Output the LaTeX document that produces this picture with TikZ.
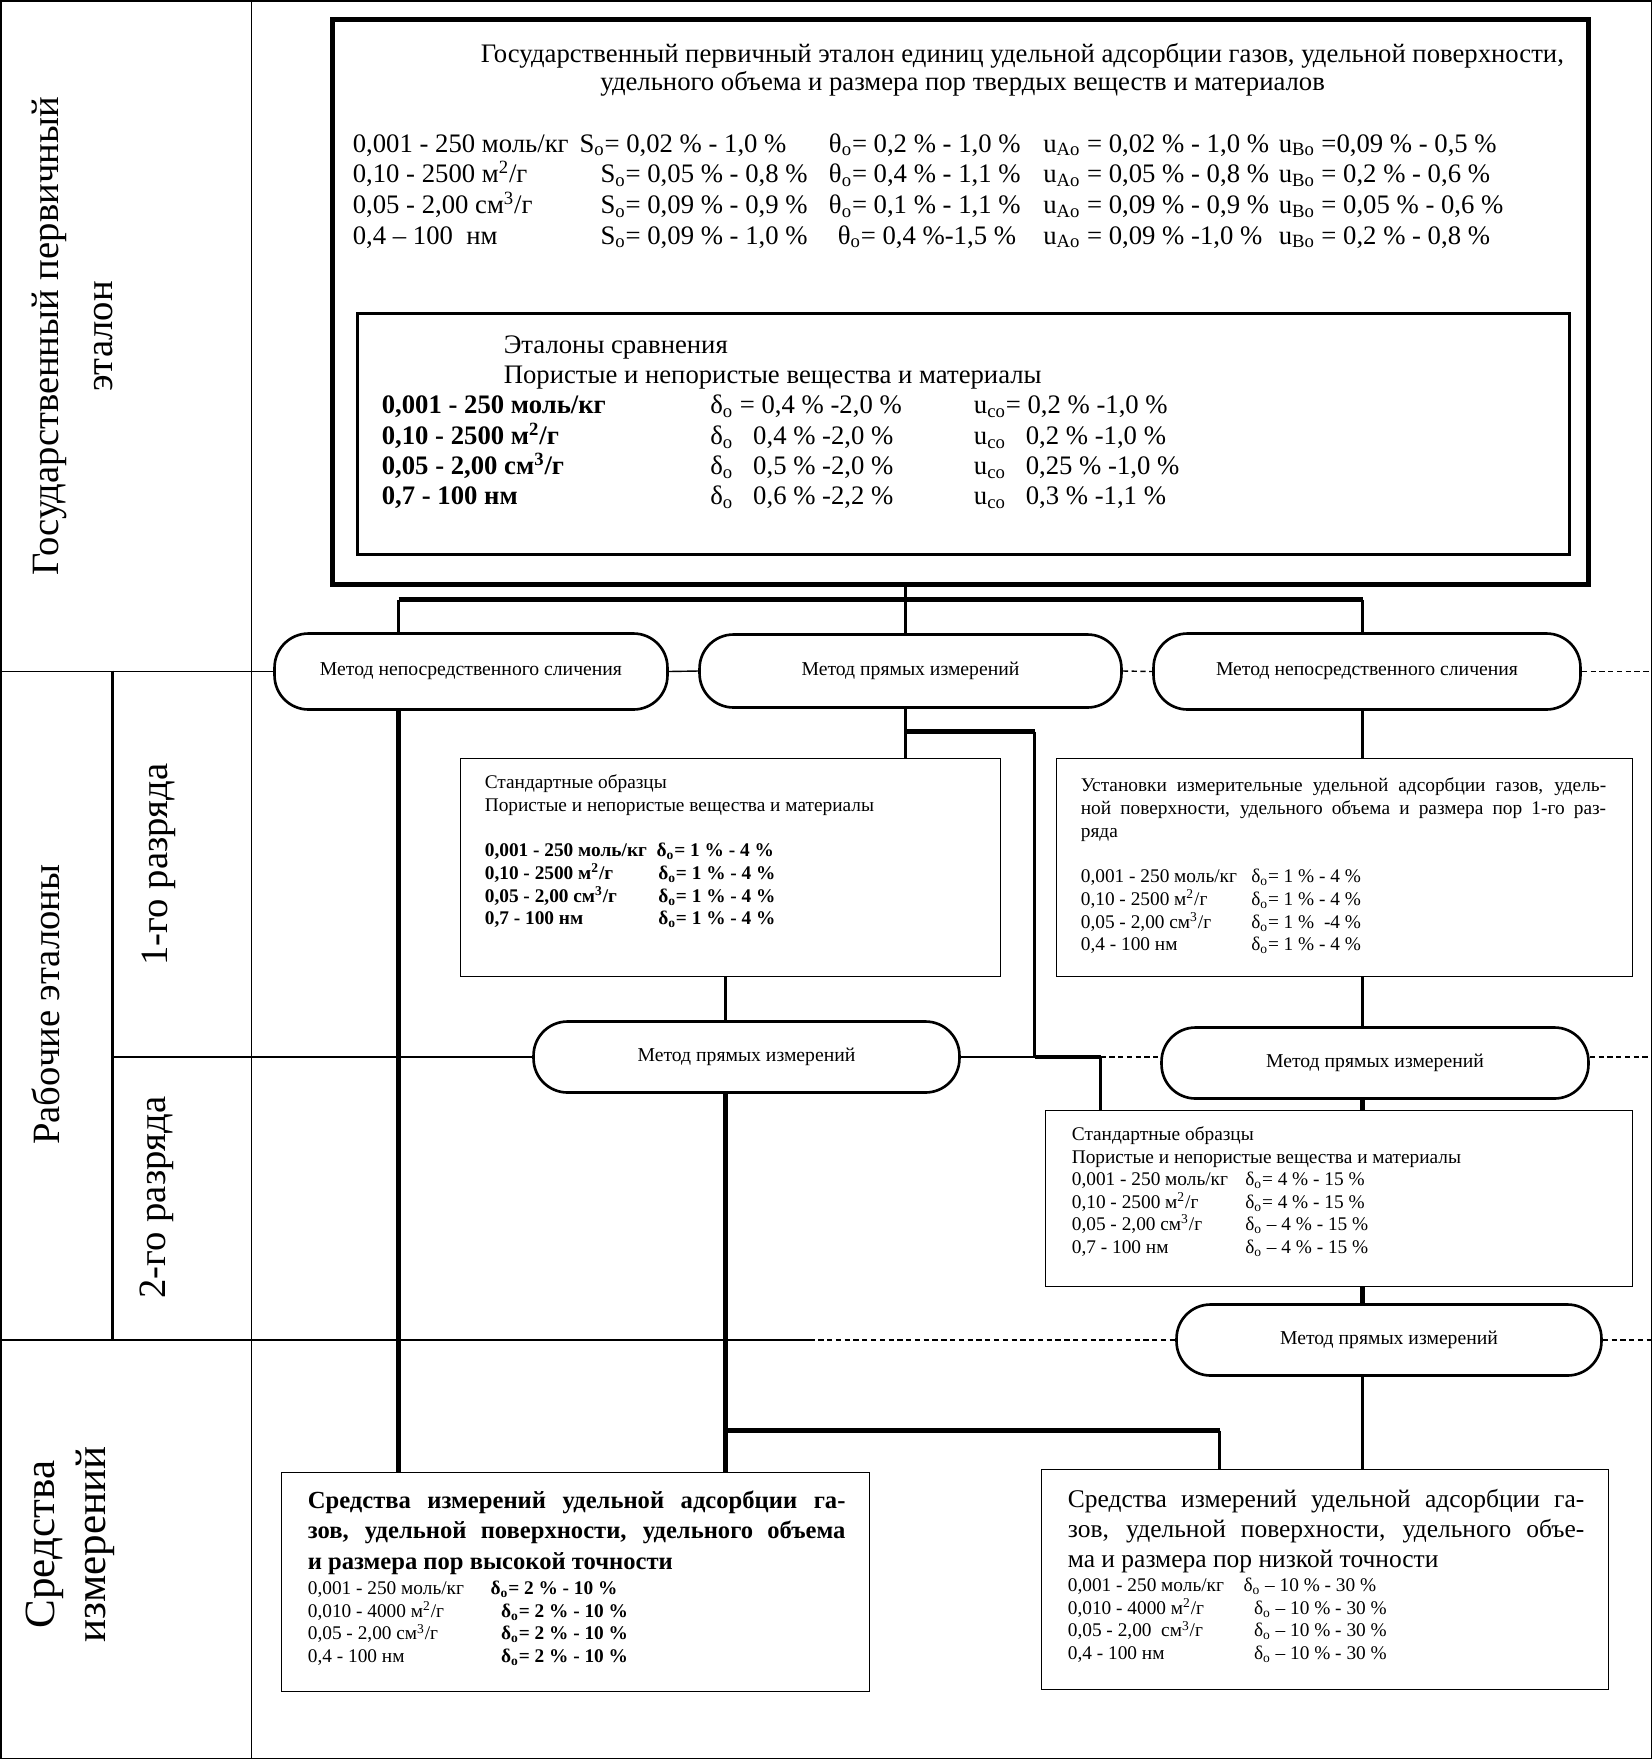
\documentclass[tikz,border=0pt]{standalone}
\usepackage{fontspec}
\setmainfont{Liberation Serif}
\usetikzlibrary{fit}

\newcommand{\dsub}{δ\textsubscript{o}}
\newcommand{\msq}{м\textsuperscript{2}/г}
\newcommand{\scm}{см\textsuperscript{3}/г}
\newcommand{\gosrow}[5]{\makebox[141pt][l]{#1}\makebox[130pt][l]{#2}\makebox[122pt][l]{#3}\makebox[134pt][l]{#4}#5}
\newcommand{\cmprow}[3]{\makebox[187pt][l]{\textbf{#1}}\makebox[150pt][l]{#2}#3}

\tikzset{
  tabline/.style={line width=0.8pt},
  dashline/.style={line width=0.8pt, densely dashed},
  sideline/.style={line width=1.4pt},
  conn/.style={line width=1.3pt},
  thickconn/.style={line width=2.4pt},
  stdbox/.style={draw, line width=1pt, inner sep=0pt},
  method/.style={draw, line width=1.5pt, rounded corners=0.68cm, inner sep=0pt,
    minimum height=1.42cm, font=\fontsize{11.2}{13}\selectfont},
  side/.style={rotate=90, align=center, inner sep=0pt, font=\fontsize{22}{30.6}\selectfont},
  txt/.style={anchor=north west, inner sep=0pt},
}

\begin{document}
\begin{tikzpicture}[x=0.02cm, y=-0.02cm]
    \useasboundingbox (-0.5,-0.5) rectangle (1651.5,1758.5);

    % опорные вертикали
    \coordinate (fl) at (0,0);
    \coordinate (fr) at (1651,0);
    \coordinate (subcol) at (112,0);
    \coordinate (midcut) at (809,0);
    \coordinate (colA) at (398,0);
    \coordinate (colB) at (905,0);
    \coordinate (colC) at (1362,0);
    \coordinate (colD) at (725,0);
    \coordinate (colE) at (1034,0);
    \coordinate (colF) at (1100,0);
    \coordinate (colG) at (1219,0);

    % рамка и левые графы
    \draw[tabline] (0.5,0.5) rectangle (1651,1758);
    \draw[tabline] (251,0) -- (251,1758);
    \draw[sideline] (112,670) -- (112,1338);

    \node[side] (lgos) at (72,336) {Государственный первичный\\эталон};
    \node[side] (lrab) at (45,1004) {Рабочие эталоны};
    \node[side] (lrz1) at (158,864) {1-го разряда};
    \node[side] (lrz2) at (156,1197) {2-го разряда};
    \node[side, font=\fontsize{24.5}{29}\selectfont] (lsi) at (70,1544) {Средства\\измерений};

    % государственный первичный эталон
    \node[draw, line width=2.8pt, inner sep=0pt, fit={(332,19) (1588,584)}] (gos) {};
    \node[txt, font=\fontsize{15.2}{16.4}\selectfont] (gostitle) at (480,41) {%
        \begin{tabular}{@{}l@{}}
        Государственный первичный эталон единиц удельной адсорбции газов, удельной поверхности,\\
        \hspace*{68pt}удельного объема и размера пор твердых веществ и материалов
        \end{tabular}};
    \node[txt, font=\fontsize{15.2}{17.35}\selectfont] (gosrows) at (352,130) {%
        \begin{tabular}{@{}l@{}}
        \gosrow{0,001 - 250 моль/кг}{\hspace*{-12pt}S\textsubscript{o}= 0,02 \% - 1,0 \%}{θ\textsubscript{o}= 0,2 \% - 1,0 \%}{u\textsubscript{Ao} = 0,02 \% - 1,0 \%}{u\textsubscript{Bo} =0,09 \% - 0,5 \%}\\
        \gosrow{0,10 - 2500 \msq}{S\textsubscript{o}= 0,05 \% - 0,8 \%}{θ\textsubscript{o}= 0,4 \% - 1,1 \%}{u\textsubscript{Ao} = 0,05 \% - 0,8 \%}{u\textsubscript{Bo} = 0,2 \% - 0,6 \%}\\
        \gosrow{0,05 - 2,00 \scm}{S\textsubscript{o}= 0,09 \% - 0,9 \%}{θ\textsubscript{o}= 0,1 \% - 1,1 \%}{u\textsubscript{Ao} = 0,09 \% - 0,9 \%}{u\textsubscript{Bo} = 0,05 \% - 0,6 \%}\\
        \gosrow{0,4 – 100\ \ нм}{S\textsubscript{o}= 0,09 \% - 1,0 \%}{\hspace*{5pt}θ\textsubscript{o}= 0,4 \%-1,5 \%}{u\textsubscript{Ao} = 0,09 \% -1,0 \%}{u\textsubscript{Bo} = 0,2 \% - 0,8 \%}
        \end{tabular}};

    % эталоны сравнения
    \node[draw, line width=1.8pt, inner sep=0pt, fit={(357,313) (1569,554)}] (cmp) {};
    \node[txt, font=\fontsize{15.2}{17}\selectfont] (cmptitle) at (503,332) {%
        \begin{tabular}{@{}l@{}}
        Эталоны сравнения\\
        Пористые и непористые вещества и материалы
        \end{tabular}};
    \node[txt, font=\fontsize{15.2}{17}\selectfont] (cmprows) at (381,392) {%
        \begin{tabular}{@{}l@{}}
        \cmprow{0,001 - 250 моль/кг}{\dsub{} = 0,4 \% -2,0 \%}{u\textsubscript{co}= 0,2 \% -1,0 \%}\\
        \cmprow{0,10 - 2500 \msq}{\dsub\ \ \ 0,4 \% -2,0 \%}{u\textsubscript{co}\ \ \ 0,2 \% -1,0 \%}\\
        \cmprow{0,05 - 2,00 \scm}{\dsub\ \ \ 0,5 \% -2,0 \%}{u\textsubscript{co}\ \ \ 0,25 \% -1,0 \%}\\
        \cmprow{0,7 - 100 нм}{\dsub\ \ \ 0,6 \% -2,2 \%}{u\textsubscript{co}\ \ \ 0,3 \% -1,1 \%}
        \end{tabular}};

    % методы передачи
    \node[method, minimum width=7.86cm, minimum height=1.52cm] (e1) at (470.5,671) {Метод непосредственного сличения};
    \node[method, minimum width=8.44cm, minimum height=1.46cm] (e2) at (910,670.5) {Метод прямых измерений};
    \node[method, minimum width=8.54cm, minimum height=1.52cm] (e3) at (1366.5,671) {Метод непосредственного сличения};
    \node[method, minimum width=8.52cm] (e4) at (746,1056.5) {Метод прямых измерений};
    \node[method, minimum width=8.54cm] (e5) at (1374.5,1062.5) {Метод прямых измерений};
    \node[method, minimum width=8.50cm] (e6) at (1388.5,1339.5) {Метод прямых измерений};

    % рабочие эталоны 1-го разряда
    \node[stdbox, fit={(460,758) (1000,976)}] (std1) {};
    \node[txt, font=\fontsize{11}{12.9}\selectfont] (std1txt) at (484,772) {%
        \begin{tabular}{@{}l@{}}
        Стандартные образцы\\
        Пористые и непористые вещества и материалы\\
        \\
        \textbf{0,001 - 250 моль/кг\ \ \dsub= 1 \% - 4 \%}\\
        \textbf{\makebox[98.7pt][l]{0,10 - 2500 \msq}\dsub= 1 \% - 4 \%}\\
        \textbf{\makebox[98.7pt][l]{0,05 - 2,00 \scm}\dsub= 1 \% - 4 \%}\\
        \textbf{\makebox[98.7pt][l]{0,7 - 100 нм}\dsub= 1 \% - 4 \%}
        \end{tabular}};

    \node[stdbox, fit={(1056,758) (1632,976)}] (ust) {};
    \node[txt, text width=299pt, align=justify, font=\fontsize{11}{12.9}\selectfont] (usttxt) at (1080,777) {%
        \noindent Установки измерительные удельной адсорбции газов, удель-\linebreak ной поверхности, удельного объема и размера пор 1-го раз-\linebreak ряда};
    \node[txt, font=\fontsize{11}{12.9}\selectfont] (ustrows) at (1080,866) {%
        \begin{tabular}{@{}l@{}}
        \makebox[97pt][l]{0,001 - 250 моль/кг}\dsub= 1 \% - 4 \%\\
        \makebox[97pt][l]{0,10 - 2500 \msq}\dsub= 1 \% - 4 \%\\
        \makebox[97pt][l]{0,05 - 2,00 \scm}\dsub= 1 \%\ \ -4 \%\\
        \makebox[97pt][l]{0,4 - 100 нм}\dsub= 1 \% - 4 \%
        \end{tabular}};

    % рабочие эталоны 2-го разряда
    \node[stdbox, fit={(1045,1110) (1632,1286)}] (std2) {};
    \node[txt, font=\fontsize{11}{12.8}\selectfont] (std2txt) at (1071,1124) {%
        \begin{tabular}{@{}l@{}}
        Стандартные образцы\\
        Пористые и непористые вещества и материалы\\
        \makebox[98.7pt][l]{0,001 - 250 моль/кг}\dsub= 4 \% - 15 \%\\
        \makebox[98.7pt][l]{0,10 - 2500 \msq}\dsub= 4 \% - 15 \%\\
        \makebox[98.7pt][l]{0,05 - 2,00 \scm}\dsub{} – 4 \% - 15 \%\\
        \makebox[98.7pt][l]{0,7 - 100 нм}\dsub{} – 4 \% - 15 \%
        \end{tabular}};

    % средства измерений
    \node[stdbox, fit={(281,1472) (869,1691)}] (hi) {};
    \node[txt, text width=306pt, align=justify, font=\bfseries\fontsize{14}{17.3}\selectfont] (hitxt) at (307,1490) {%
        \noindent Средства измерений удельной адсорбции га-\linebreak зов, удельной поверхности, удельного объема\linebreak и размера пор высокой точности};
    \node[txt, font=\fontsize{11}{12.8}\selectfont] (hirows) at (307,1578) {%
        \begin{tabular}{@{}l@{}}
        \makebox[104pt][l]{0,001 - 250 моль/кг}\textbf{\dsub= 2 \% - 10 \%}\\
        \makebox[110pt][l]{0,010 - 4000 \msq}\textbf{\dsub= 2 \% - 10 \%}\\
        \makebox[110pt][l]{0,05 - 2,00 \scm}\textbf{\dsub= 2 \% - 10 \%}\\
        \makebox[110pt][l]{0,4 - 100 нм}\textbf{\dsub= 2 \% - 10 \%}
        \end{tabular}};

    \node[stdbox, fit={(1041,1469) (1608,1689)}] (lo) {};
    \node[txt, text width=294pt, align=justify, font=\fontsize{14.5}{17.3}\selectfont] (lotxt) at (1067,1488) {%
        \noindent Средства измерений удельной адсорбции га-\linebreak зов, удельной поверхности, удельного объе-\linebreak ма и размера пор низкой точности};
    \node[txt, font=\fontsize{11}{12.8}\selectfont] (lorows) at (1067,1575) {%
        \begin{tabular}{@{}l@{}}
        \makebox[100pt][l]{0,001 - 250 моль/кг}\dsub{} – 10 \% - 30 \%\\
        \makebox[106pt][l]{0,010 - 4000 \msq}\dsub{} – 10 \% - 30 \%\\
        \makebox[106pt][l]{0,05 - 2,00\ \ \scm}\dsub{} – 10 \% - 30 \%\\
        \makebox[106pt][l]{0,4 - 100 нм}\dsub{} – 10 \% - 30 \%
        \end{tabular}};

    % горизонтальные границы уровней
    \draw[tabline] (fl |- e1.west) -- (e1.west);
    \draw[tabline] (e1.east) -- (e2.west);
    \draw[dashline] (e2.east) -- (e3.west);
    \draw[dashline] (e3.east) -- (fr |- e3.east);

    \draw[tabline] (subcol |- e4.west) -- (e4.west);
    \draw[tabline] (e4.east) -- (colE |- e4.east);
    \draw[dashline] (colF |- e4.east) -- (e5.west |- e4.east);
    \draw[dashline] (e5.east |- e4.east) -- (fr |- e4.east);

    \draw[tabline] (fl |- e6.west) -- (midcut |- e6.west);
    \draw[dashline] (midcut |- e6.west) -- (e6.west);
    \draw[dashline] (e6.east) -- (fr |- e6.east);

    % связи
    \coordinate (barL) at (398,599);
    \coordinate (barR) at (1362,599);
    \coordinate (jB) at (905,731);
    \coordinate (jD) at (725,1430);

    \draw[conn] (gos.south -| colB) -- (e2.north -| colB);
    \draw[thickconn] (barL) -- (barR);
    \draw[conn] (barL) -- (e1.north -| barL);
    \draw[conn] (barR) -- (e3.north -| barR);

    \draw[thickconn] (e1.south -| colA) -- (hi.north -| colA);

    \draw[conn] (e2.south -| colB) -- (std1.north -| colB);
    \draw[thickconn] (jB) -- (jB -| colE);
    \draw[conn] (jB -| colE) -- (colE |- e4);
    \draw[thickconn] (colE |- e4) -- (colF |- e4);
    \draw[conn] (colF |- e4) -- (std2.north -| colF);

    \draw[conn] (e3.south -| colC) -- (ust.north -| colC);
    \draw[conn] (ust.south -| colC) -- (e5.north -| colC);
    \draw[thickconn] (e5.south -| colC) -- (std2.north -| colC);
    \draw[thickconn] (std2.south -| colC) -- (e6.north -| colC);
    \draw[conn] (e6.south -| colC) -- (lo.north -| colC);

    \draw[conn] (std1.south -| colD) -- (e4.north -| colD);
    \draw[thickconn] (e4.south -| colD) -- (hi.north -| colD);
    \draw[thickconn] (jD) -- (jD -| colG);
    \draw[conn] (jD -| colG) -- (lo.north -| colG);
\end{tikzpicture}
\end{document}
